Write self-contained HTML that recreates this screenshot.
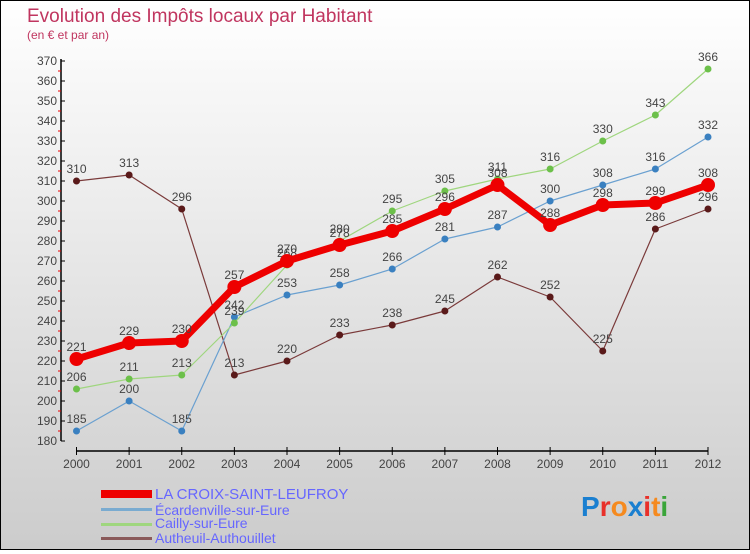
<!DOCTYPE html>
<html><head><meta charset="utf-8"><style>
html,body{margin:0;padding:0}
body{width:750px;height:550px;overflow:hidden;font-family:"Liberation Sans",sans-serif}
#wrap{position:relative;width:748px;height:548px;border:1px solid #000;background:linear-gradient(#fff,#ccc)}
</style></head><body>
<div id="wrap">
<svg id="chart" width="748" height="548">
<text x="26" y="21" font-size="19" fill="#c0355f">Evolution des Impôts locaux par Habitant</text>
<text x="26" y="38" font-size="12" fill="#c0355f">(en € et par an)</text>
<g id="axes"></g><g id="series"></g>
<g>
<rect x="100" y="489" width="51" height="8" fill="#e00"/>
<text x="154" y="498" font-size="15" fill="#66f">LA CROIX-SAINT-LEUFROY</text>
<rect x="100" y="507" width="51" height="3" fill="#7aabd0"/>
<text x="154" y="514" font-size="14" fill="#66f">Écardenville-sur-Eure</text>
<rect x="100" y="522" width="51" height="3" fill="#9fd67e"/>
<text x="154" y="527" font-size="14" fill="#66f">Cailly-sur-Eure</text>
<rect x="100" y="536" width="51" height="3" fill="#8a5a5a"/>
<text x="154" y="542" font-size="14" fill="#66f">Autheuil-Authouillet</text>
</g>
<text x="580" y="515" font-size="28" font-weight="bold"><tspan fill="#1a7fd0">P</tspan><tspan fill="#e8302a">r</tspan><tspan fill="#f58a1f">o</tspan><tspan fill="#1a7fd0">x</tspan><tspan fill="#e8302a">i</tspan><tspan fill="#f58a1f">t</tspan><tspan fill="#3aa53a">i</tspan></text>
</svg></div>
<script>
const years=[2000,2001,2002,2003,2004,2005,2006,2007,2008,2009,2010,2011,2012];
const croix=[221,229,230,257,270,278,285,296,308,288,298,299,308];
const ecard=[185,200,185,242,253,258,266,281,287,300,308,316,332];
const cailly=[206,211,213,239,268,280,295,305,311,316,330,343,366];
const autheuil=[310,313,296,213,220,233,238,245,262,252,225,286,296];
const yTicks=[180,190,200,210,220,230,240,250,260,270,280,290,300,310,320,330,340,350,360,370];
const NS="http://www.w3.org/2000/svg";
const X=i=>75.5+i*(707-75.5)/(years.length-1);
const Y=v=>440-(v-180)*2;
function mk(t,a,p){const e=document.createElementNS(NS,t);for(const k in a)e.setAttribute(k,a[k]);p.appendChild(e);return e;}
const ax=document.getElementById('axes');
const yl=mk('line',{x1:60,y1:Y(370)-2,x2:60,y2:Y(180),stroke:'#000','stroke-width':1.5},ax);


yTicks.forEach(v=>{
 mk('line',{x1:60,y1:Y(v),x2:64,y2:Y(v),stroke:'#000'},ax);
 if(v<370)mk('line',{x1:57,y1:Y(v+5),x2:60,y2:Y(v+5),stroke:'#e00'},ax);
 const t=mk('text',{x:56,y:Y(v)+4,'text-anchor':'end','font-size':12,fill:'#444'},ax);t.textContent=v;
 
 
});
const xl=mk('line',{x1:75.5,y1:450,x2:707,y2:450,stroke:'#000','stroke-width':1.5},ax);


years.forEach((y,i)=>{
 mk('line',{x1:X(i),y1:446,x2:X(i),y2:454,stroke:'#000'},ax);
 const t=mk('text',{x:X(i),y:467,'text-anchor':'middle','font-size':12,fill:'#444'},ax);t.textContent=y;
 
 
});
const sg=document.getElementById('series');
function series(data,color,w,r,dot,name){
 const g=mk('g',{},sg);
 
 
 mk('polyline',{points:data.map((v,i)=>X(i)+','+Y(v)).join(' '),fill:'none',stroke:color,'stroke-width':w,'stroke-linejoin':'round'},g);
 data.forEach((v,i)=>{
  const c=mk('circle',{cx:X(i),cy:Y(v),r:r,fill:dot},g);
  
  
  const t=mk('text',{x:X(i),y:Y(v)-8,'text-anchor':'middle','font-size':12,fill:'#444'},g);t.textContent=v;
  
  
 });
}
series(autheuil,'#7a3a3a',1.2,3.5,'#5a1a1a','autheuil');
series(ecard,'#6aa0d0',1.2,3.5,'#3a80c0','ecardenville');
series(cailly,'#9fd67e',1.2,3.5,'#6cc04a','cailly');
series(croix,'#ee0000',7,7,'#ee0000','croix');
</script>
</body></html>
